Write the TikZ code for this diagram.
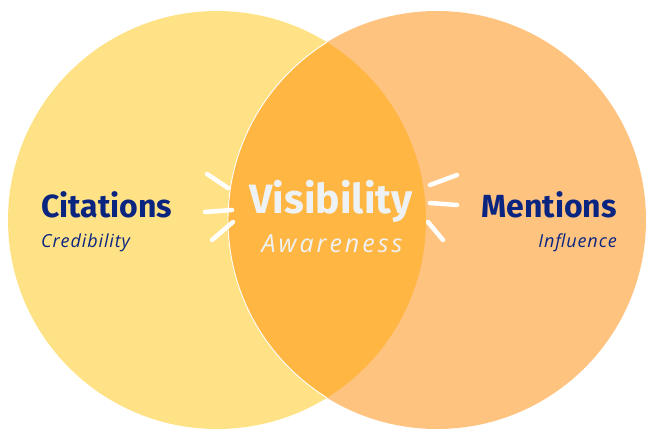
\documentclass[tikz,border=0pt]{standalone}
\usepackage{fontspec}
\newfontfamily\titlefont{Fira Sans}
\newfontfamily\subfont[LetterSpace=5]{Open Sans}
\newfontfamily\awafont[LetterSpace=12]{Open Sans}
\definecolor{leftfill}{HTML}{FFE285}
\definecolor{rightfill}{HTML}{FFC380}
\definecolor{midfill}{HTML}{FFB643}
\definecolor{navy}{HTML}{0A2580}
\definecolor{paleword}{HTML}{EEF2F5}
\tikzset{
  title/.style={font=\titlefont\bfseries\fontsize{32}{36}\selectfont, text=navy, inner sep=0pt},
  subtitle/.style={font=\subfont\itshape\fontsize{18}{21}\selectfont, text=navy, inner sep=0pt},
  midtitle/.style={font=\titlefont\bfseries\fontsize{41}{45}\selectfont, text=paleword, inner sep=0pt},
  midsub/.style={font=\awafont\itshape\fontsize{25}{28}\selectfont, text=paleword, inner sep=0pt},
  ray/.style={draw=white, line width=4.5pt, line cap=round}
}
\begin{document}
\begin{tikzpicture}[x=1pt,y=-1pt]
\useasboundingbox (0,0) rectangle (653,433);
\coordinate (cl) at (217,220);
\coordinate (cr) at (437,220);
\fill[leftfill] (cl) circle[radius=209pt];
\fill[rightfill] (cr) circle[radius=209pt];
\begin{scope}
  \clip (cl) circle[radius=209pt];
  \fill[midfill] (cr) circle[radius=209pt];
\end{scope}
\begin{scope}
  \clip (cl) circle[radius=209pt];
  \draw[white, line width=0.9pt] (cr) circle[radius=209pt];
\end{scope}
% rays
\draw[ray] (207,174) -- (228,188);
\draw[ray] (205,212) -- (232,210);
\draw[ray] (212,240) -- (233,222);
\draw[ray] (430,185) -- (457,175);
\draw[ray] (430,203) -- (457,205);
\draw[ray] (428,222) -- (443,240);
% texts
\node[title, anchor=base west] (cit) at (41,217) {Citations};
\node[subtitle, anchor=base west] (cred) at (41,247) {Credibility};
\node[title, anchor=base east] (men) at (617,217) {Mentions};
\node[subtitle, anchor=base east] (infl) at (617,247) {Influence};
\node[midtitle, anchor=base] (vis) at (331,213) {Visibility};
\node[midsub, anchor=base] (awa) at (332,252) {Awareness};
\end{tikzpicture}
\end{document}
